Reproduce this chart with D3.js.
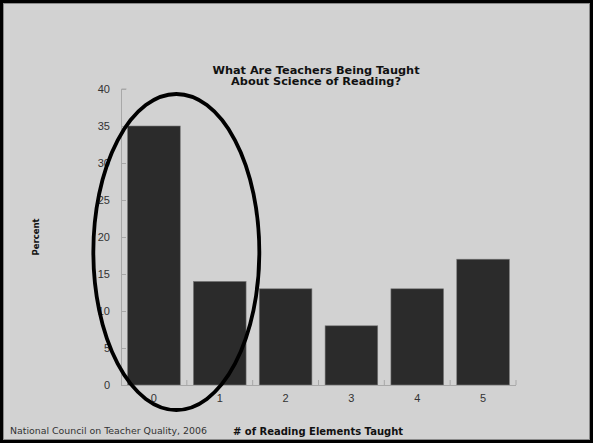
<!DOCTYPE html>
<html>
<head>
<meta charset="utf-8">
<script src="https://cdn.jsdelivr.net/npm/d3@7/dist/d3.min.js"></script>
<style>
  html, body { margin: 0; padding: 0; background: #d2d2d2; }
  svg { display: block; }
</style>
</head>
<body>
<script>
// Share of programs by number of reading elements taught
const categories = ["0", "1", "2", "3", "4", "5"];
const percents = [35, 14, 13, 8, 13, 17];
const yTicks = [0, 5, 10, 15, 20, 25, 30, 35, 40];
const titleLines = ["What Are Teachers Being Taught", "About Science of Reading?"];
// Categories singled out by the hand-drawn ring
const highlighted = ["0", "1"];

const W = 593, H = 443;
const svg = d3.select("body").append("svg").attr("width", W).attr("height", H);

svg.append("rect").attr("x", 0).attr("y", 0).attr("width", W).attr("height", H).attr("fill", "#d2d2d2");

const plot = { left: 121, right: 516, top: 89, bottom: 385 };

const x = d3.scaleBand().domain(categories).range([plot.left, plot.right])
  .paddingInner(0.2).paddingOuter(0.1);
const y = d3.scaleLinear().domain([0, 40]).range([plot.bottom, plot.top]);

// Bars
svg.append("g").selectAll("rect").data(categories).join("rect")
  .attr("x", d => x(d))
  .attr("y", (d, i) => y(percents[i]))
  .attr("width", x.bandwidth())
  .attr("height", (d, i) => y(0) - y(percents[i]))
  .attr("fill", "#2b2b2b")
  .attr("stroke", "#7a7a7a")
  .attr("stroke-width", 0.6);

// Y axis: inward ticks, grey rule
const yAxis = svg.append("g").attr("transform", `translate(${plot.left},0)`)
  .call(d3.axisRight(y).tickValues(yTicks).tickSize(5).tickFormat(""));
yAxis.select(".domain").attr("stroke", "#a8a8a8").attr("d", `M0.5,${plot.bottom}V${plot.top}h5`);
yAxis.selectAll(".tick line").attr("stroke", "#a8a8a8");
svg.append("g").selectAll("text").data(yTicks).join("text")
  .attr("x", 110).attr("y", d => y(d) + 4)
  .attr("text-anchor", "end")
  .attr("font-family", "Liberation Sans, Arial, sans-serif")
  .attr("font-size", 11).attr("fill", "#333")
  .text(d => d);

// X axis: ticks on band boundaries pointing up
const boundaries = categories.map(c => x(c) - x.step() * x.paddingInner() / 2).slice(1).concat([plot.right]);
const xg = svg.append("g");
xg.append("line").attr("x1", plot.left).attr("x2", plot.right)
  .attr("y1", plot.bottom + 0.5).attr("y2", plot.bottom + 0.5).attr("stroke", "#a8a8a8");
xg.selectAll("line.tk").data(boundaries).join("line").attr("class", "tk")
  .attr("x1", d => d).attr("x2", d => d)
  .attr("y1", plot.bottom).attr("y2", plot.bottom - 5).attr("stroke", "#a8a8a8");
xg.selectAll("text").data(categories).join("text")
  .attr("x", d => x(d) + x.bandwidth() / 2).attr("y", 402)
  .attr("text-anchor", "middle")
  .attr("font-family", "Liberation Sans, Arial, sans-serif")
  .attr("font-size", 11).attr("fill", "#333")
  .text(d => d);

// Title
svg.append("text")
  .attr("font-family", "DejaVu Sans, Verdana, sans-serif")
  .attr("font-weight", "bold").attr("font-size", 11.3).attr("fill", "#111")
  .attr("text-anchor", "middle")
  .selectAll("tspan").data(titleLines).join("tspan")
  .attr("x", 316).attr("y", (d, i) => 73.5 + i * 11.5)
  .text(d => d);

// Axis titles
svg.append("text")
  .attr("transform", "translate(39,237) rotate(-90)")
  .attr("text-anchor", "middle")
  .attr("font-family", "DejaVu Sans, Verdana, sans-serif")
  .attr("font-weight", "bold").attr("font-size", 8.5).attr("fill", "#111")
  .text("Percent");

svg.append("text")
  .attr("x", 318).attr("y", 434.5)
  .attr("text-anchor", "middle")
  .attr("font-family", "DejaVu Sans, Verdana, sans-serif")
  .attr("font-weight", "bold").attr("font-size", 10).attr("fill", "#111")
  .text("# of Reading Elements Taught");

// Source note
svg.append("text")
  .attr("x", 10).attr("y", 434)
  .attr("font-family", "DejaVu Sans, Verdana, sans-serif")
  .attr("font-size", 9.4).attr("fill", "#333")
  .text("National Council on Teacher Quality, 2006");

// Ring around the highlighted categories
const hx0 = x(highlighted[0]), hx1 = x(highlighted[highlighted.length - 1]) + x.bandwidth();
svg.append("ellipse")
  .attr("cx", (hx0 + hx1) / 2 - 10.5)
  .attr("cy", 252)
  .attr("rx", 83)
  .attr("ry", 158)
  .attr("fill", "none")
  .attr("stroke", "#000")
  .attr("stroke-width", 3.8);

// Frame
svg.append("rect").attr("x", 1.5).attr("y", 1.5).attr("width", W - 3).attr("height", H - 3)
  .attr("fill", "none").attr("stroke", "#000").attr("stroke-width", 3);
svg.append("rect").attr("x", 3.5).attr("y", 3.5).attr("width", W - 7).attr("height", H - 7)
  .attr("fill", "none").attr("stroke", "#8a8a8a").attr("stroke-width", 1);
</script>
</body>
</html>
